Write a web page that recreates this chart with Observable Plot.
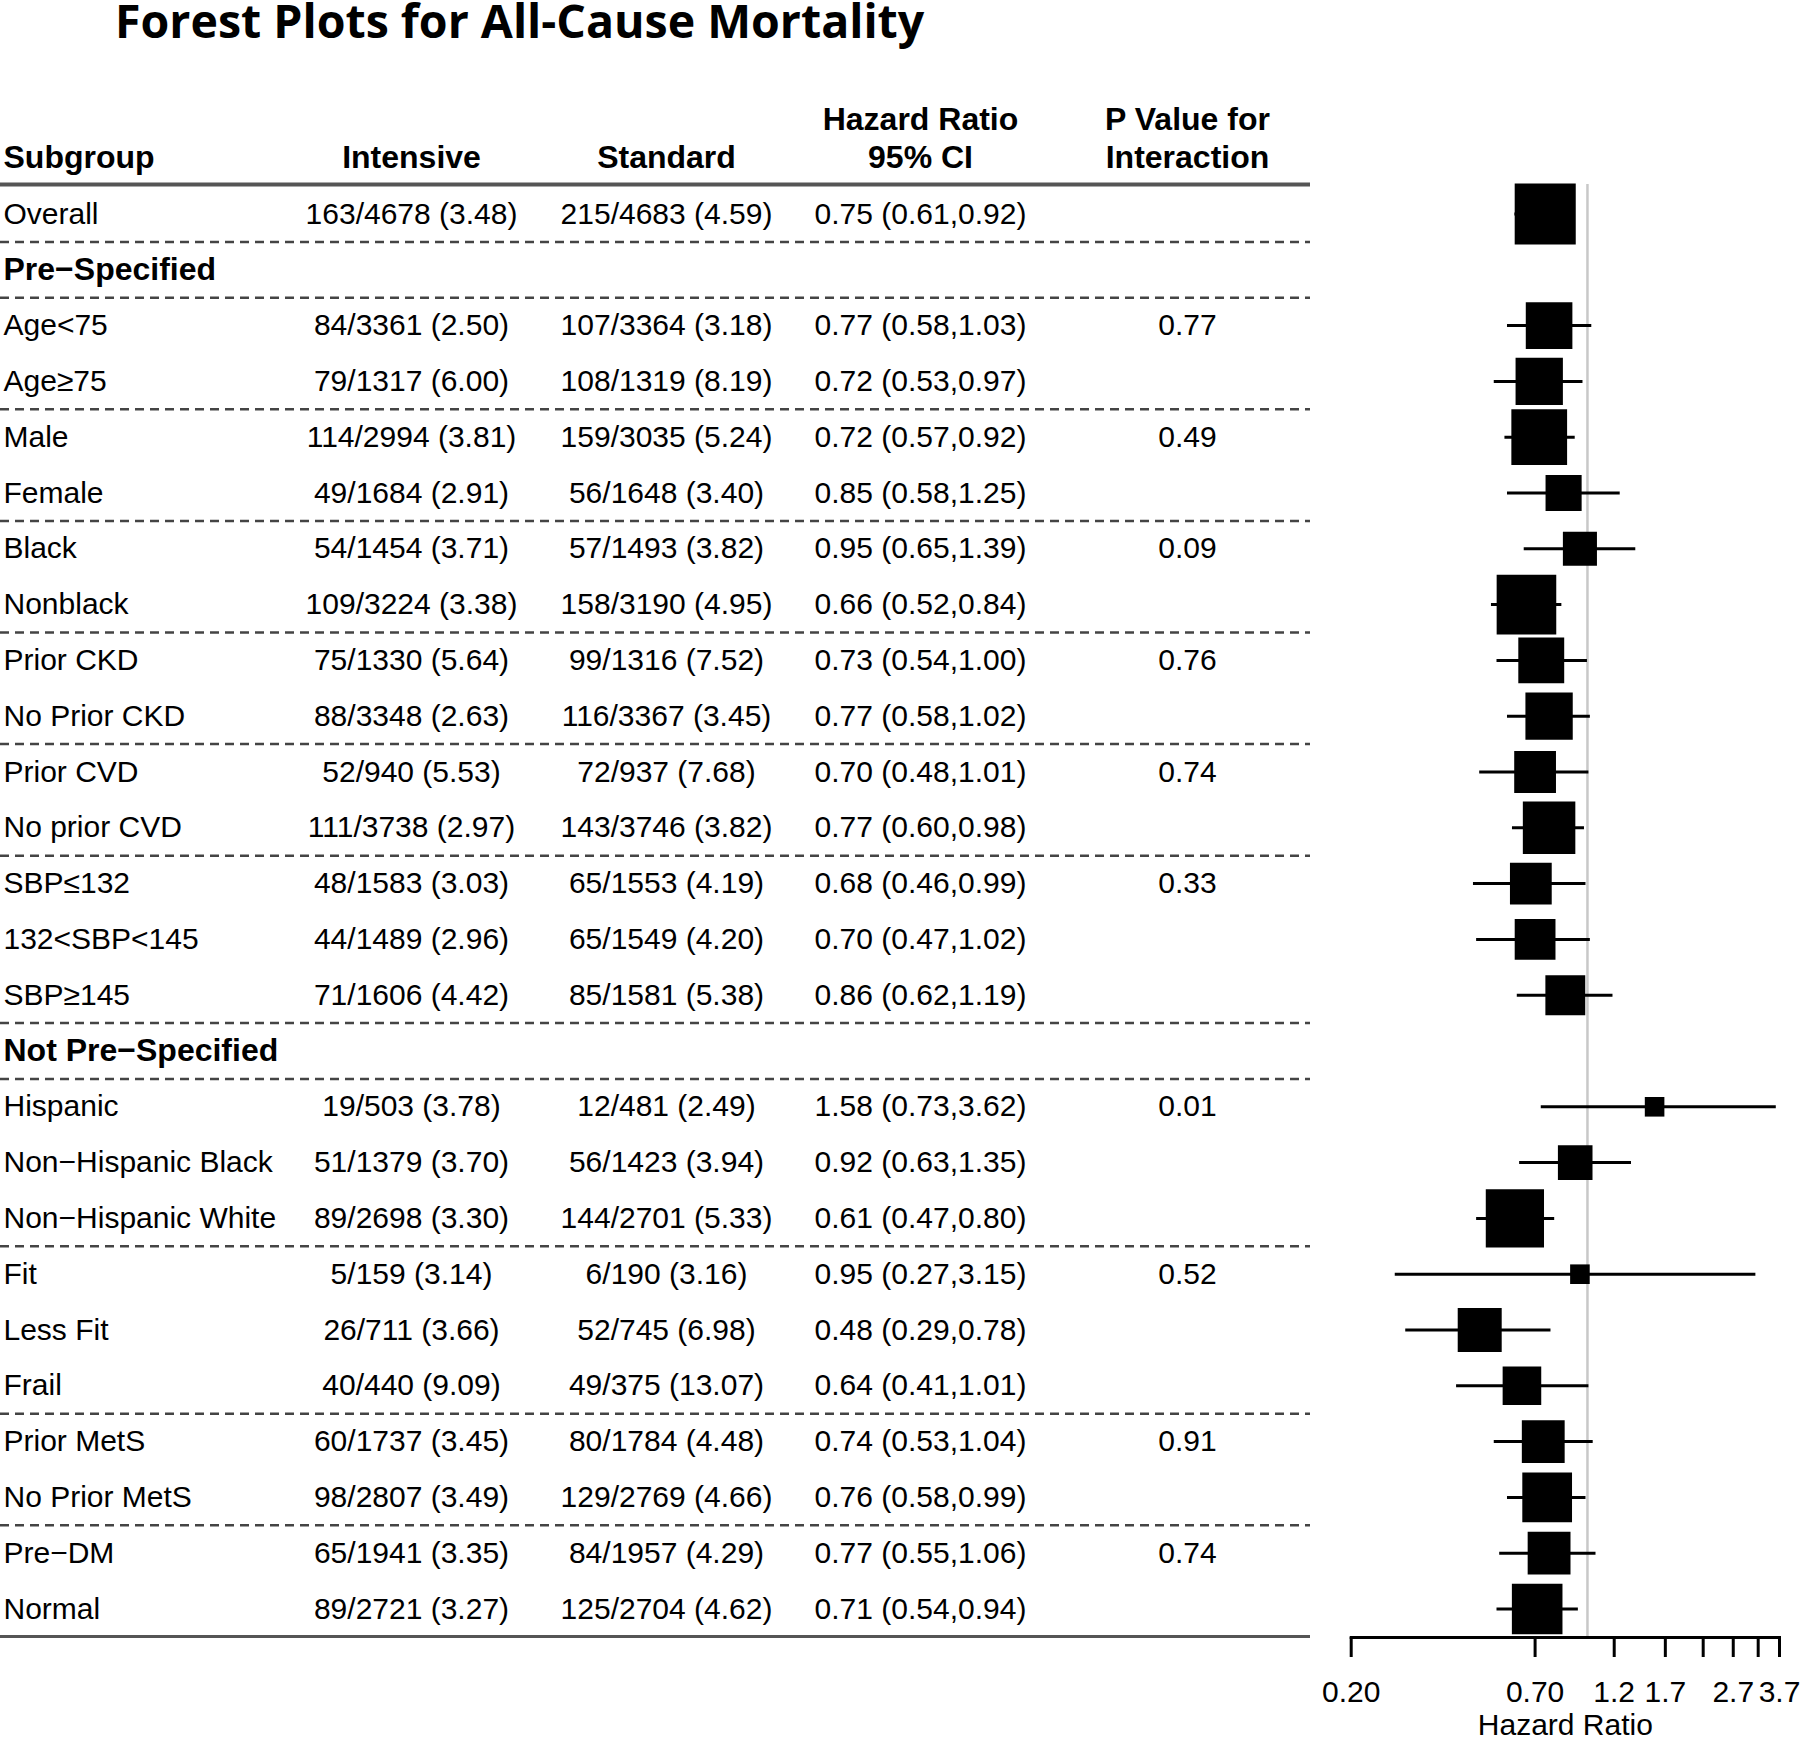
<!DOCTYPE html>
<html>
<head>
<meta charset="utf-8">
<script src="https://cdn.jsdelivr.net/npm/d3@7"></script>
<script src="https://cdn.jsdelivr.net/npm/@observablehq/plot@0.6"></script>
<style>
  html, body { margin: 0; padding: 0; background: #fff; }
  #page { position: relative; width: 1800px; height: 1739px; overflow: hidden; background: #fff; }
  #title { position: absolute; left: 115px; top: -3px; font-family: "Open Sans", sans-serif; font-weight: 700; font-size: 46.5px; line-height: 46.5px; color: #000; white-space: nowrap; }
  #table { position: absolute; left: 0; top: 50px; }
  #forest { position: absolute; left: 1310px; top: 50px; }
</style>
</head>
<body>
<div id="page">
  <div id="title">Forest Plots for All-Cause Mortality</div>
  <div id="table"></div>
  <div id="forest"></div>
</div>
<script>
// ---------------- data ----------------
const subgroups = ["Overall","Pre−Specified","Age<75","Age≥75","Male","Female","Black","Nonblack","Prior CKD","No Prior CKD","Prior CVD","No prior CVD","SBP≤132","132<SBP<145","SBP≥145","Not Pre−Specified","Hispanic","Non−Hispanic Black","Non−Hispanic White","Fit","Less Fit","Frail","Prior MetS","No Prior MetS","Pre−DM","Normal"];
const headingRows = ["Pre−Specified","Not Pre−Specified"];
const intensive = ["163/4678 (3.48)","","84/3361 (2.50)","79/1317 (6.00)","114/2994 (3.81)","49/1684 (2.91)","54/1454 (3.71)","109/3224 (3.38)","75/1330 (5.64)","88/3348 (2.63)","52/940 (5.53)","111/3738 (2.97)","48/1583 (3.03)","44/1489 (2.96)","71/1606 (4.42)","","19/503 (3.78)","51/1379 (3.70)","89/2698 (3.30)","5/159 (3.14)","26/711 (3.66)","40/440 (9.09)","60/1737 (3.45)","98/2807 (3.49)","65/1941 (3.35)","89/2721 (3.27)"];
const standard = ["215/4683 (4.59)","","107/3364 (3.18)","108/1319 (8.19)","159/3035 (5.24)","56/1648 (3.40)","57/1493 (3.82)","158/3190 (4.95)","99/1316 (7.52)","116/3367 (3.45)","72/937 (7.68)","143/3746 (3.82)","65/1553 (4.19)","65/1549 (4.20)","85/1581 (5.38)","","12/481 (2.49)","56/1423 (3.94)","144/2701 (5.33)","6/190 (3.16)","52/745 (6.98)","49/375 (13.07)","80/1784 (4.48)","129/2769 (4.66)","84/1957 (4.29)","125/2704 (4.62)"];
const hazardRatio = [0.75,null,0.77,0.72,0.72,0.85,0.95,0.66,0.73,0.77,0.70,0.77,0.68,0.70,0.86,null,1.58,0.92,0.61,0.95,0.48,0.64,0.74,0.76,0.77,0.71];
const ciLower = [0.61,null,0.58,0.53,0.57,0.58,0.65,0.52,0.54,0.58,0.48,0.60,0.46,0.47,0.62,null,0.73,0.63,0.47,0.27,0.29,0.41,0.53,0.58,0.55,0.54];
const ciUpper = [0.92,null,1.03,0.97,0.92,1.25,1.39,0.84,1.00,1.02,1.01,0.98,0.99,1.02,1.19,null,3.62,1.35,0.80,3.15,0.78,1.01,1.04,0.99,1.06,0.94];
const pInteraction = ["","","0.77","","0.49","","0.09","","0.76","","0.74","","0.33","","","","0.01","","","0.52","","","0.91","","0.74",""];
const separatorAfter = ["Overall","Pre−Specified","Age≥75","Female","Nonblack","No Prior CKD","No prior CVD","SBP≥145","Not Pre−Specified","Non−Hispanic White","Frail","No Prior MetS"];
const headerLine1 = [["Hazard Ratio","hr"],["P Value for","p"]];
const headerLine2 = [["Subgroup","sub"],["Intensive","int"],["Standard","std"],["95% CI","hr"],["Interaction","p"]];
const tickValues = [0.2,0.7,1.2,1.7,2.2,2.7,3.2,3.7];
const tickLabels = ["0.20","0.70","1.2","1.7","","2.7","","3.7"];

// ---------------- table built from arrays ----------------
const f2 = d3.format(".2f");
const rows = subgroups.map((name, i) => ({
  name,
  row: i,
  heading: headingRows.includes(name),
  intensive: intensive[i],
  standard: standard[i],
  hr: hazardRatio[i],
  lower: ciLower[i],
  upper: ciUpper[i],
  hrText: hazardRatio[i] == null ? "" : `${f2(hazardRatio[i])} (${f2(ciLower[i])},${f2(ciUpper[i])})`,
  p: pInteraction[i],
  info: hazardRatio[i] == null ? null : 1 / (ciUpper[i] - ciLower[i])
}));
const estimates = rows.filter(d => d.hr != null);
const sepRows = separatorAfter.map(n => subgroups.indexOf(n) + 0.5);

// ---------------- layout ----------------
const H = 1689;
const n = subgroups.length;
const yScale = {type: "linear", domain: [0, n - 1], range: [163.5, 1558.5], axis: null};
const colX = {sub: 3, int: 411, std: 666, hr: 920, p: 1187};
const font = "'Liberation Sans', Arial, sans-serif";

const colMarks = [];
const cols = [["intensive","int"],["standard","std"],["hrText","hr"],["p","p"]];
for (const [field, key] of cols) {
  colMarks.push(Plot.text(rows, {y: "row", text: field, frameAnchor: "left", dx: colX[key], textAnchor: "middle", lineAnchor: "middle", fontSize: 30}));
}
const headerMarks = [];
for (const [t, key] of headerLine1) {
  headerMarks.push(Plot.text([t], {frameAnchor: "top-left", dx: colX[key], dy: 69, textAnchor: key === "sub" ? "start" : "middle", lineAnchor: "middle", fontSize: 32, fontWeight: "bold"}));
}
for (const [t, key] of headerLine2) {
  headerMarks.push(Plot.text([t], {frameAnchor: "top-left", dx: colX[key], dy: 107, textAnchor: key === "sub" ? "start" : "middle", lineAnchor: "middle", fontSize: 32, fontWeight: "bold"}));
}

const table = Plot.plot({
  width: 1310,
  height: H,
  margin: 0,
  y: yScale,
  style: {fontFamily: font, fontSize: "30px", color: "#000", background: "transparent", overflow: "visible"},
  marks: [
    Plot.ruleY([0], {dy: -29.5, stroke: "#555", strokeWidth: 4}),
    Plot.ruleY(sepRows, {stroke: "#444", strokeWidth: 2.5, strokeDasharray: "9,6"}),
    Plot.ruleY([n - 1], {dy: 27.5, stroke: "#555", strokeWidth: 3}),
    ...headerMarks,
    Plot.text(rows.filter(d => !d.heading), {y: "row", text: "name", frameAnchor: "left", dx: colX.sub, textAnchor: "start", lineAnchor: "middle", fontSize: 30}),
    Plot.text(rows.filter(d => d.heading), {y: "row", text: "name", frameAnchor: "left", dx: colX.sub, textAnchor: "start", lineAnchor: "middle", fontSize: 32, fontWeight: "bold"}),
    ...colMarks
  ]
});
document.getElementById("table").appendChild(table);

const tickLabelMap = new Map(tickValues.map((v, i) => [v, tickLabels[i]]));
const forest = Plot.plot({
  width: 490,
  height: H,
  marginLeft: 40.7,
  marginRight: 21,
  marginTop: 134,
  marginBottom: 102,
  x: {type: "log", domain: [0.2, 3.7]},
  y: yScale,
  r: {type: "linear", domain: [0, 4], range: [14.6 / Math.sqrt(Math.PI), (14.6 + 14.4 * 4) / Math.sqrt(Math.PI)]},
  style: {fontFamily: font, fontSize: "30px", color: "#000", background: "transparent", overflow: "visible"},
  marks: [
    Plot.ruleX([1], {stroke: "#c8c8c8", strokeWidth: 2.5}),
    Plot.ruleY(estimates, {y: "row", x1: "lower", x2: "upper", stroke: "#000", strokeWidth: 3}),
    Plot.dot(estimates, {x: "hr", y: "row", r: "info", symbol: "square", fill: "#000", stroke: null}),
    Plot.frame({anchor: "bottom", stroke: "#000", strokeWidth: 3}),
    Plot.axisX({ticks: tickValues, tickFormat: d => tickLabelMap.get(d), tickSize: 20, tickPadding: 23, strokeWidth: 3, fontSize: 30, label: null}),
    Plot.text(["Hazard Ratio"], {frameAnchor: "bottom", dy: 97, lineAnchor: "bottom", fontSize: 30})
  ]
});
document.getElementById("forest").appendChild(forest);
</script>
</body>
</html>
